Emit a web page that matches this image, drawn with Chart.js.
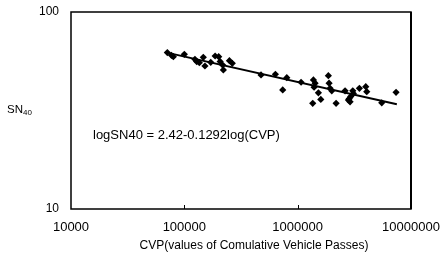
<!DOCTYPE html>
<html>
<head>
<meta charset="utf-8">
<script src="https://cdn.jsdelivr.net/npm/chart.js@4.4.0/dist/chart.umd.min.js"></script>
<style>
    body { margin: 0; background: #fff; }
    #wrap { position: relative; width: 441px; height: 254px; font-family: "Liberation Sans", Arial, sans-serif; color: #000; }
    #chart { position: absolute; left: 0; top: 0; }
    .lbl { position: absolute; white-space: nowrap; line-height: 1; }
    #ytitle { left: 7px; top: 104px; font-size: 11.5px; }
    #ytitle sub { font-size: 8px; vertical-align: -2px; }
    #eq { left: 93px; top: 128px; font-size: 13px; }
    #xtitle { left: 254px; top: 239px; font-size: 12px; transform: translateX(-50%); }
</style>
</head>
<body>
<div id="wrap">
    <canvas id="chart" width="441" height="254"></canvas>
    <div class="lbl" id="ytitle">SN<sub>40</sub></div>
    <div class="lbl" id="eq">logSN40 = 2.42-0.1292log(CVP)</div>
    <div class="lbl" id="xtitle">CVP(values of Comulative Vehicle Passes)</div>
</div>
<script>
// measured points (CVP, SN40)
const cvp = [70800, 80000, 77000, 100000, 124000, 128500, 135600, 147000, 152000, 171000,
    187000, 201000, 207000, 218000, 221000, 250000, 265000, 475000, 636000, 802000,
    738000, 1072000, 1377000, 1425000, 1396000, 1358000, 1524000, 1600000, 1866000, 1893000,
    1932000, 2000000, 2183000, 2620000, 2803000, 2900000, 2940000, 3100000, 3065000, 2850000,
    3505000, 3990000, 4070000, 5520000, 7380000];
const sn40 = [62.2, 59.3, 60.3, 61.0, 57.5, 56.0, 55.3, 58.9, 53.2, 55.5,
    59.8, 59.3, 56.0, 53.8, 50.8, 56.6, 54.9, 47.9, 48.3, 46.4,
    40.2, 44.0, 45.2, 43.5, 41.5, 34.4, 38.9, 36.0, 47.5, 43.5,
    41.0, 39.8, 34.4, 39.8, 35.7, 35.0, 37.2, 38.6, 39.8, 36.3,
    41.0, 41.8, 39.4, 34.6, 39.1];

// regression line ends
const fitX = [70000, 7500000];
const fitY = [62.2, 34.0];

const xTicks = [10000, 100000, 1000000, 10000000];
const yTicks = [10, 100];

const frame = {
    id: 'frame',
    afterDraw(chart) {
        const { ctx, chartArea: a, scales } = chart;
        ctx.save();
        ctx.strokeStyle = '#000';
        ctx.lineWidth = 1.5;
        ctx.strokeRect(a.left, a.top, a.right - a.left, a.bottom - a.top);
        ctx.lineWidth = 2;
        ctx.beginPath();
        ctx.moveTo(a.right, a.top);
        ctx.lineTo(a.right, a.bottom);
        ctx.stroke();
        // small inner ticks on the x axis
        ctx.lineWidth = 1;
        xTicks.slice(1, -1).forEach(v => {
            const px = Math.round(scales.x.getPixelForValue(v)) + 0.5;
            ctx.beginPath();
            ctx.moveTo(px, a.bottom);
            ctx.lineTo(px, a.bottom - 4);
            ctx.stroke();
        });
        ctx.restore();
    }
};

new Chart(document.getElementById('chart'), {
    type: 'scatter',
    data: {
        datasets: [{
            data: cvp.map((x, i) => ({ x: x, y: sn40[i] })),
            pointStyle: 'rectRot',
            pointRadius: 3.6,
            backgroundColor: '#000',
            borderColor: '#000',
            borderWidth: 0
        }, {
            type: 'line',
            data: fitX.map((x, i) => ({ x: x, y: fitY[i] })),
            borderColor: '#000',
            borderWidth: 2,
            pointRadius: 0,
            fill: false
        }]
    },
    options: {
        responsive: false,
        animation: false,
        devicePixelRatio: 1,
        layout: { padding: { left: 0, right: 30, top: 12, bottom: 0 } },
        plugins: { legend: { display: false }, tooltip: { enabled: false } },
        scales: {
            x: {
                type: 'logarithmic',
                min: 10000,
                max: 10000000,
                afterBuildTicks: s => { s.ticks = xTicks.map(v => ({ value: v })); },
                afterFit: s => { s.height = 45; s.paddingLeft = 0; s.paddingRight = 0; },
                grid: { display: false, drawTicks: false },
                border: { display: false },
                ticks: {
                    color: '#000',
                    padding: 11,
                    maxRotation: 0,
                    font: { family: '"Liberation Sans", Arial', size: 13 },
                    callback: v => String(v)
                }
            },
            y: {
                type: 'logarithmic',
                min: 10,
                max: 100,
                afterBuildTicks: s => { s.ticks = yTicks.map(v => ({ value: v })); },
                afterFit: s => { s.width = 71; s.paddingTop = 0; s.paddingBottom = 0; },
                grid: { display: false, drawTicks: false },
                border: { display: false },
                ticks: {
                    color: '#000',
                    padding: 12,
                    font: { family: '"Liberation Sans", Arial', size: 12 },
                    callback: v => String(v)
                }
            }
        }
    },
    plugins: [frame]
});
</script>
</body>
</html>
